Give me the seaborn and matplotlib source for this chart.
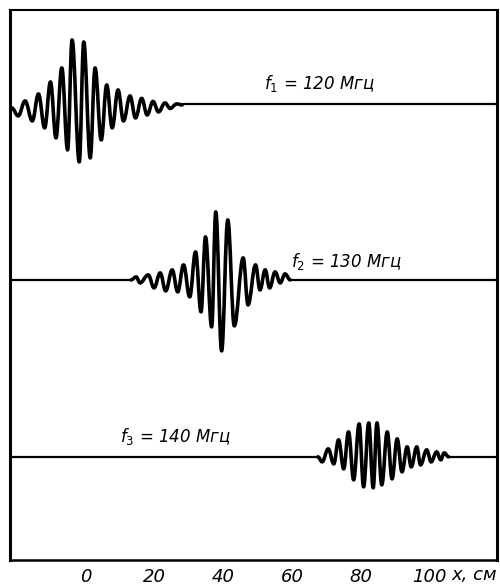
import matplotlib
matplotlib.use("Agg")
import matplotlib.pyplot as plt
import seaborn as sns
from matplotlib.path import Path
from matplotlib.patches import PathPatch

# extrema of the three wave packets (x in cm, amplitude in arbitrary units)
x1 = [-21.7, -19.8, -17.8, -15.7, -13.9, -12.1, -10.4, -8.8, -7.1, -5.4, -4.1, -2.0, -0.7,
      1.2, 2.6, 4.4, 6.0, 7.6, 9.3, 10.9, 12.8, 14.4, 16.2, 17.8, 19.5, 21.1, 23.0, 24.5, 26.4, 28.0]
a1 = [-4, -12, 3, -17, 10, -24, 22, -34, 36, -46, 64, -58, 62,
      -54, 36, -36, 19, -24, 14, -17, 8, -14, 5.5, -11, 2.5, -8, 1, -4.5, 0, -1]

x2 = [13.1, 14.6, 15.7, 18.1, 19.8, 21.6, 23.2, 25.1, 26.7, 28.4, 30.2, 31.9, 33.5, 34.8,
      36.6, 37.8, 39.5, 41.3, 43.2, 45.8, 47.2, 49.4, 50.7, 52.2, 53.5, 55.1, 56.6, 58.0, 59.5]
a2 = [0, 3, -3, 5, -8, 7, -11, 10, -12, 15, -17, 28, -32, 43,
      -47, 68, -71, 60, -46, 22, -25, 15, -10, 10, -8, 8, -3, 6, 0]

x3 = [67.6, 68.8, 70.6, 72.2, 73.6, 75.1, 76.5, 78.0, 79.6, 80.9, 82.4, 83.7, 84.8, 86.2,
      87.8, 89.2, 90.7, 92.1, 93.6, 94.8, 96.4, 97.5, 99.3, 100.6, 102.2, 103.4, 104.4, 105.7]
a3 = [0, -5, 8, -7, 17, -12, 25, -23, 33, -30, 34, -31, 34, -28,
      25, -22, 18, -15, 10, -10, 10, -8, 7, -5, 5, -3, 4, 0]

labels = ["$f_1$ = 120 Мгц", "$f_2$ = 130 Мгц", "$f_3$ = 140 Мгц"]
ticks = [0, 20, 40, 60, 80, 100]

sns.set_style("white")
plt.rcParams["font.family"] = ["DejaVu Sans"]
plt.rcParams["mathtext.fontset"] = "dejavusans"
plt.rcParams["mathtext.default"] = "it"
plt.rcParams["text.color"] = "black"

fig = plt.figure(figsize=(5, 5.85), dpi=100)
ax = fig.add_axes([0.02, 0.043, 0.974, 0.94])
xmin, xmax = -22.2, 119.8
ax.set_xlim(xmin, xmax)
ax.set_ylim(0, 550)


def wave(ax, xs, amps, base):
    # smooth curve through the extrema, horizontal tangent at each one
    verts = [(xs[0], base + amps[0])]
    codes = [Path.MOVETO]
    for i in range(len(xs) - 1):
        x0, y0 = xs[i], base + amps[i]
        x1_, y1 = xs[i + 1], base + amps[i + 1]
        d = (x1_ - x0) * 0.38
        verts += [(x0 + d, y0), (x1_ - d, y1), (x1_, y1)]
        codes += [Path.CURVE4] * 3
    ax.add_patch(PathPatch(Path(verts, codes), fill=False, lw=2.6, ec="black",
                           capstyle="round", joinstyle="round"))


bases = [456, 280, 103]
for xs, amps, base in zip([x1, x2, x3], [a1, a2, a3], bases):
    wave(ax, xs, amps, base)
    if xs[0] > xmin + 0.5:
        sns.lineplot(x=[xmin, xs[0]], y=[base, base], ax=ax, color="black", lw=1.6)
    sns.lineplot(x=[xs[-1], xmax], y=[base, base], ax=ax, color="black", lw=1.6)

ax.text(68, 476, labels[0], fontsize=12, style="italic", ha="center", va="center", color="black")
ax.text(76, 298, labels[1], fontsize=12, style="italic", ha="center", va="center", color="black")
ax.text(26, 123, labels[2], fontsize=12, style="italic", ha="center", va="center", color="black")

ax.set_xticks(ticks)
ax.set_xticklabels([str(t) for t in ticks], fontsize=13, style="italic", color="black")
ax.set_yticks([])
ax.tick_params(axis="x", direction="in", length=8.5, width=1.2, pad=6, colors="black")
for s in ["left", "right", "bottom", "top"]:
    ax.spines[s].set_color("black")
ax.spines["left"].set_linewidth(2.2)
ax.spines["right"].set_linewidth(2.2)
ax.spines["bottom"].set_linewidth(1.8)
ax.spines["top"].set_linewidth(1.5)
ax.text(1.0, -0.028, "x, см", transform=ax.transAxes, fontsize=13, style="italic",
        ha="right", va="center", color="black")

fig.savefig("out.png", dpi=100)
